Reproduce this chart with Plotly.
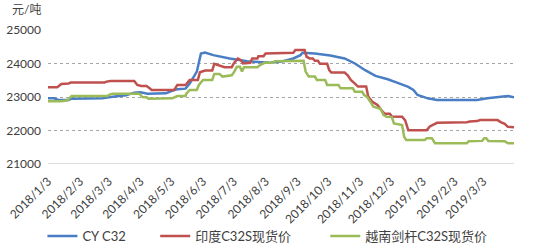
import plotly.graph_objects as go

# ---------------- data ----------------
tick_dates = ["2018-01-03", "2018-02-03", "2018-03-03", "2018-04-03", "2018-05-03",
              "2018-06-03", "2018-07-03", "2018-08-03", "2018-09-03", "2018-10-03",
              "2018-11-03", "2018-12-03", "2019-01-03", "2019-02-03", "2019-03-03"]
tick_labels = ["2018/1/3", "2018/2/3", "2018/3/3", "2018/4/3", "2018/5/3",
               "2018/6/3", "2018/7/3", "2018/8/3", "2018/9/3", "2018/10/3",
               "2018/11/3", "2018/12/3", "2019/1/3", "2019/2/3", "2019/3/3"]
y_ticks = [21000, 22000, 23000, 24000, 25000]
y_labels = ["21000", "22000", "23000", "24000", "25000"]

cy_dates = ["2018-01-03", "2018-01-09", "2018-01-13", "2018-01-23", "2018-01-26", "2018-02-25",
            "2018-03-05", "2018-03-20", "2018-03-28", "2018-04-03", "2018-04-10", "2018-04-28",
            "2018-05-05", "2018-05-09", "2018-05-17", "2018-05-21", "2018-05-28", "2018-06-01",
            "2018-06-05", "2018-06-13", "2018-06-29", "2018-07-16", "2018-08-07", "2018-08-20",
            "2018-08-30", "2018-09-06", "2018-09-08", "2018-09-20", "2018-10-05", "2018-10-19",
            "2018-10-29", "2018-11-08", "2018-11-18", "2018-11-30", "2018-12-09", "2018-12-20",
            "2018-12-25", "2018-12-29", "2019-01-03", "2019-01-08", "2019-01-17", "2019-02-25",
            "2019-03-07", "2019-03-17", "2019-03-27", "2019-04-02"]
cy_vals = [22960, 22960, 22910, 22910, 22950, 22960,
           23000, 23050, 23130, 23140, 23100, 23110,
           23200, 23230, 23250, 23400, 23760, 24300,
           24330, 24250, 24150, 24070, 24020, 24070,
           24150, 24250, 24320, 24300, 24240, 24150,
           24000, 23800, 23630, 23530, 23430, 23300,
           23210, 23060, 23010, 22960, 22910, 22910,
           22960, 23000, 23030, 22990]

in_dates = ["2018-01-03", "2018-01-12", "2018-01-16", "2018-01-23", "2018-01-25", "2018-02-27",
            "2018-03-01", "2018-03-05", "2018-03-28", "2018-03-31", "2018-04-04", "2018-04-09",
            "2018-04-12", "2018-04-14", "2018-05-06", "2018-05-09", "2018-05-17", "2018-05-18",
            "2018-05-21", "2018-05-29", "2018-05-31", "2018-06-05", "2018-06-12", "2018-06-14",
            "2018-06-20", "2018-06-24", "2018-07-01", "2018-07-03", "2018-07-07", "2018-07-10",
            "2018-07-12", "2018-07-19", "2018-07-21", "2018-07-26", "2018-07-27", "2018-08-01",
            "2018-08-03", "2018-08-20", "2018-08-30", "2018-09-01", "2018-09-10", "2018-09-12",
            "2018-09-15", "2018-09-18", "2018-09-20", "2018-09-23", "2018-09-25", "2018-10-02",
            "2018-10-04", "2018-10-06", "2018-10-19", "2018-10-22", "2018-10-25", "2018-10-29",
            "2018-11-01", "2018-11-09", "2018-11-11", "2018-11-15", "2018-11-20", "2018-11-24",
            "2018-11-27", "2018-12-02", "2018-12-04", "2018-12-14", "2018-12-17", "2018-12-20",
            "2019-01-07", "2019-01-10", "2019-01-14", "2019-01-17", "2019-02-15", "2019-02-18",
            "2019-02-25", "2019-02-28", "2019-03-17", "2019-03-20", "2019-03-24", "2019-03-27",
            "2019-04-02"]
in_vals = [23290, 23290, 23390, 23400, 23430, 23430,
           23460, 23480, 23480, 23360, 23330, 23330,
           23260, 23210, 23210, 23360, 23360, 23390,
           23510, 23510, 23740, 23790, 23790, 23990,
           23930, 23890, 23890, 24000, 24150, 24100,
           24000, 24020, 24150, 24150, 24220, 24220,
           24300, 24320, 24320, 24400, 24400, 24200,
           24150, 24150, 24080, 24080, 23990, 23990,
           23800, 23730, 23730, 23650, 23510, 23400,
           23310, 23310, 23010, 22860, 22760, 22600,
           22500, 22500, 22420, 22410, 22300, 22010,
           22010, 22120, 22190, 22230, 22250, 22270,
           22280, 22310, 22310, 22250, 22200, 22110,
           22100]

vn_dates = ["2018-01-03", "2018-01-16", "2018-01-22", "2018-01-26", "2018-03-02", "2018-03-04",
            "2018-03-07", "2018-04-02", "2018-04-05", "2018-04-09", "2018-04-11", "2018-05-02",
            "2018-05-04", "2018-05-09", "2018-05-17", "2018-05-18", "2018-05-21", "2018-05-28",
            "2018-05-30", "2018-06-03", "2018-06-12", "2018-06-14", "2018-06-19", "2018-06-22",
            "2018-06-26", "2018-07-01", "2018-07-03", "2018-07-06", "2018-07-09", "2018-07-11",
            "2018-07-13", "2018-07-26", "2018-07-29", "2018-08-02", "2018-08-10", "2018-08-12",
            "2018-09-09", "2018-09-11", "2018-09-14", "2018-09-20", "2018-09-22", "2018-09-30",
            "2018-10-02", "2018-10-13", "2018-10-15", "2018-10-27", "2018-10-29", "2018-11-05",
            "2018-11-07", "2018-11-10", "2018-11-13", "2018-11-16", "2018-11-23", "2018-11-26",
            "2018-11-29", "2018-12-04", "2018-12-06", "2018-12-14", "2018-12-16", "2018-12-18",
            "2019-01-05", "2019-01-07", "2019-01-12", "2019-01-15", "2019-02-15", "2019-02-17",
            "2019-03-02", "2019-03-04", "2019-03-06", "2019-03-08", "2019-03-24", "2019-03-27",
            "2019-04-02"]
vn_vals = [22870, 22870, 22900, 23030, 23030, 23070,
           23100, 23100, 23000, 22990, 22950, 22950,
           22960, 23030, 23030, 23110, 23210, 23210,
           23360, 23510, 23510, 23690, 23690, 23610,
           23630, 23650, 23730, 23900, 23900, 23760,
           23890, 23890, 23960, 24020, 24020, 24070,
           24080, 23760, 23610, 23610, 23510, 23510,
           23360, 23360, 23260, 23260, 23160, 23160,
           23060, 23000, 22860, 22710, 22650, 22460,
           22410, 22400, 22210, 22160, 21810, 21720,
           21720, 21770, 21770, 21620, 21620, 21680,
           21690, 21770, 21770, 21690, 21680, 21620,
           21620]

names = ["CY C32", "印度C32S现货价", "越南剑杆C32S现货价"]
colors = ["#4A7EC4", "#C0504D", "#9BBB59"]

# ---------------- figure ----------------
FONT = "Lato, 'Noto Sans CJK SC', sans-serif"
fig = go.Figure()
series = [(cy_dates, cy_vals), (in_dates, in_vals), (vn_dates, vn_vals)]
legend_ids = ["legend", "legend2", "legend3"]
for (d, v), n, c, lg in zip(series, names, colors, legend_ids):
    fig.add_trace(go.Scatter(x=d, y=v, name=n, mode="lines",
                             line=dict(color=c, width=2.5), legend=lg))

legend_common = dict(orientation="h", yanchor="middle", y=-0.537, xanchor="left",
                     bgcolor="rgba(0,0,0,0)", borderwidth=0,
                     font=dict(family=FONT, size=13, color="#404040"))

fig.update_layout(
    width=533, height=246,
    margin=dict(l=48, r=19, t=30, b=82, autoexpand=False),
    paper_bgcolor="white", plot_bgcolor="white",
    font=dict(family=FONT, size=11, color="#404040"),
    showlegend=True,
    legend=dict(x=-0.012, **legend_common),
    legend2=dict(x=0.23, **legend_common),
    legend3=dict(x=0.595, **legend_common),
    xaxis=dict(type="date", range=["2018-01-03", "2019-04-02"], automargin=False,
               tickvals=tick_dates, ticktext=tick_labels, tickangle=-45,
               tickfont=dict(family=FONT, size=12, color="#404040"),
               showgrid=False, showline=False, zeroline=False, ticks="",
               ticklabelstandoff=7),
    yaxis=dict(range=[21000, 25000], tickvals=y_ticks, ticktext=y_labels, automargin=False,
               tickfont=dict(family=FONT, size=12, color="#404040"),
               showgrid=True, gridcolor="#A6A6A6", griddash="dot", gridwidth=1,
               zeroline=False, showline=False, ticks="", ticklabelstandoff=6),
    shapes=[dict(type="line", xref="paper", yref="y", x0=0, x1=1, y0=21000, y1=21000,
                 line=dict(color="#BFBFBF", width=1), layer="above")],
    annotations=[dict(text="元/吨", xref="paper", yref="paper", x=-0.082, y=1.15,
                      xanchor="left", yanchor="middle", showarrow=False,
                      font=dict(family=FONT, size=12, color="#404040"))],
)

fig.write_html("out.html")
